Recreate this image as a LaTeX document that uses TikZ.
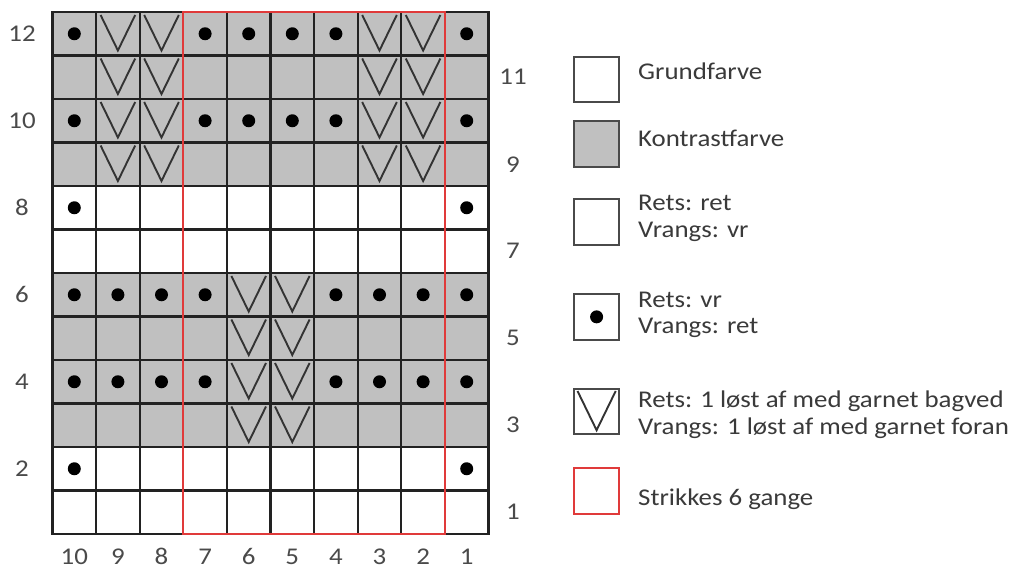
\documentclass[tikz,border=0pt]{standalone}
\usepackage{fontspec}
\setmainfont{Carlito}[FakeStretch=1.12]
\definecolor{kgray}{HTML}{C0C0C0}
\definecolor{gridc}{HTML}{222222}
\definecolor{redc}{HTML}{E03A3A}
\definecolor{txtc}{HTML}{3A3A3A}
\definecolor{numc}{HTML}{4A4A4A}
\definecolor{boxc}{HTML}{4A4A4A}
\definecolor{vcol}{HTML}{333333}
\def\DD{D}
\def\VV{V}
\begin{document}
\begin{tikzpicture}[x=1pt,y=-1pt,
  cell/.style={draw=gridc,line width=2.2pt,minimum width=43.6pt,minimum height=43.5pt,inner sep=0pt,outer sep=0pt,anchor=north west},
  dotc/.style={circle,fill=black,inner sep=0pt,minimum size=13pt},
  vmark/.style={draw=vcol,line width=1.9pt,line join=miter},
  lbl/.style={text=numc,font=\fontsize{24}{26}\selectfont,inner sep=0pt},
  legbox/.style={draw=boxc,line width=2.2pt,minimum width=45pt,minimum height=45.5pt,inner sep=0pt,anchor=north west},
  legtxt/.style={text=txtc,font=\fontsize{24}{26.5}\selectfont,inner sep=0pt,align=left}
]
\useasboundingbox (0,0) rectangle (1021,570);
\fill[white] (0,0) rectangle (1021,570);

% chart cells
\foreach \r/\fc/\pat in {
  12/kgray/{D,V,V,D,D,D,D,V,V,D},
  11/kgray/{N,V,V,N,N,N,N,V,V,N},
  10/kgray/{D,V,V,D,D,D,D,V,V,D},
  9/kgray/{N,V,V,N,N,N,N,V,V,N},
  8/white/{D,N,N,N,N,N,N,N,N,D},
  7/white/{N,N,N,N,N,N,N,N,N,N},
  6/kgray/{D,D,D,D,V,V,D,D,D,D},
  5/kgray/{N,N,N,N,V,V,N,N,N,N},
  4/kgray/{D,D,D,D,V,V,D,D,D,D},
  3/kgray/{N,N,N,N,V,V,N,N,N,N},
  2/white/{D,N,N,N,N,N,N,N,N,D},
  1/white/{N,N,N,N,N,N,N,N,N,N}}{
  \foreach \s [count=\i from 0] in \pat {
    \node[cell,fill=\fc] (c\r-\i) at ({52.5+43.6*\i},{12+43.5*(12-\r)}) {};
    \ifx\s\DD
      \node[dotc] (d\r-\i) at (c\r-\i.center) {};
    \fi
    \ifx\s\VV
      \draw[vmark] ([shift={(4.5,3)}]c\r-\i.north west) -- ([shift={(0,-5)}]c\r-\i.south) -- ([shift={(-4.5,3)}]c\r-\i.north east);
    \fi
  }
}

% repeat frame
\draw[redc,line width=2.2pt] (c12-3.north west) rectangle (c1-8.south east);

% row numbers
\foreach \r in {12,10,8,6,4,2}{
  \node[lbl] (rl\r) at (22,{12+43.5*(12-\r)+21.75}) {\r};
}
\foreach \r in {11,9,7,5,3,1}{
  \node[lbl] (rr\r) at (513,{12+43.5*(12-\r)+21.75}) {\r};
}
% column numbers
\foreach \i in {0,...,9}{
  \pgfmathtruncatemacro{\cn}{10-\i}
  \node[lbl] (cl\i) at ({52.5+43.6*\i+21.8},556.5) {\cn};
}

% legend
\node[legbox] (b1) at (573,55.5) {};
\node[legbox,fill=kgray] (b2) at (573,120) {};
\node[legbox] (b3) at (573,198) {};
\node[legbox] (b4) at (573,293) {};
\node[dotc] (b4d) at (b4.center) {};
\node[legbox] (b5) at (573,387.5) {};
\draw[vmark] ([shift={(4.5,3.5)}]b5.north west) -- ([shift={(0,-5)}]b5.south) -- ([shift={(-4.5,3.5)}]b5.north east);
\node[legbox,draw=redc] (b6) at (573,467) {};

\node[legtxt,anchor=base west] (t1) at (638,79) {Grundfarve};
\node[legtxt,anchor=base west] (t2) at (638,146) {Kontrastfarve};
\node[legtxt,anchor=west] (t3) at (638,218.5) {Rets: ret\\Vrangs: vr};
\node[legtxt,anchor=west] (t4) at (638,315) {Rets: vr\\Vrangs: ret};
\node[legtxt,anchor=west] (t5) at (638,414.5) {Rets: 1 løst af med garnet bagved\\Vrangs: 1 løst af med garnet foran};
\node[legtxt,anchor=base west] (t6) at (638,505) {Strikkes 6 gange};
\end{tikzpicture}
\end{document}
